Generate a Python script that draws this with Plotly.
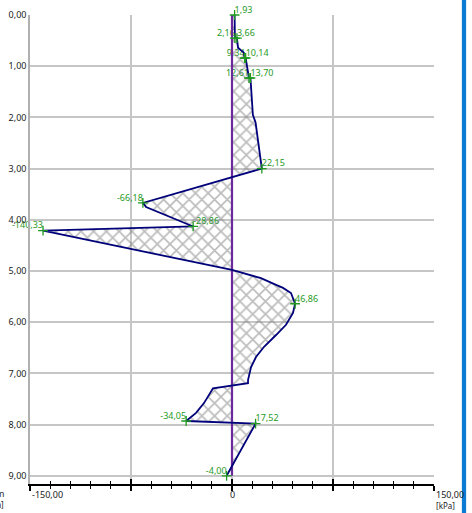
import plotly.graph_objects as go

# ---------------- data ----------------
depth = [0.00, 0.45, 0.45, 0.64, 0.74, 0.84, 0.84, 1.23, 1.23, 1.95, 2.10, 3.00,
         3.67, 3.75, 4.13, 4.21, 4.98, 5.14, 5.27, 5.33, 5.43, 5.64, 5.82, 6.05,
         6.25, 6.48, 6.68, 6.88, 7.13, 7.19, 7.29, 7.42, 7.58, 7.77, 7.93, 7.98, 9.00]
pressure = [1.93, 2.16, 3.66, 4.50, 8.90, 9.34, 10.14, 12.61, 13.70, 15.50, 17.50, 22.15,
            -66.18, -63.80, -28.86, -140.33, 0.00, 21.50, 32.70, 37.90, 43.80, 46.86, 45.30, 40.10,
            32.70, 23.80, 17.80, 14.10, 11.90, 11.90, -14.10, -17.10, -20.80, -26.70, -34.05, 17.52, -4.00]

label_values = [1.93, 2.16, 3.66, 9.34, 10.14, 12.61, 13.70, 22.15, -66.18, -28.86,
                -140.33, 46.86, -34.05, 17.52, -4.00]
label_depths = [0.00, 0.45, 0.45, 0.84, 0.84, 1.23, 1.23, 3.00, 3.67, 4.13,
                4.21, 5.64, 7.93, 7.98, 9.00]
label_sides = ["r", "l", "r", "l", "r", "l", "r", "r", "l", "r", "l", "r", "l", "r", "l"]

depth_ticks = [0, 1, 2, 3, 4, 5, 6, 7, 8, 9]
depth_tick_text = ["0,00", "1,00", "2,00", "3,00", "4,00", "5,00", "6,00", "7,00", "8,00", "9,00"]
x_labels = [(-150, "-150,00", "left"), (0, "0", "center"), (150, "150,00", "left")]

GREEN = "#1f9a1f"
NAVY = "#00007a"
PURPLE = "#6a2a9c"
FONT = "Noto Sans"

def fmt(v):
    return f"{v:.2f}".replace(".", ",")

fig = go.Figure()

# labels (below the fill, like the reference)
for side in ("l", "r"):
    xs = [v for v, s in zip(label_values, label_sides) if s == side]
    ys = [d for d, s in zip(label_depths, label_sides) if s == side]
    fig.add_trace(go.Scatter(
        x=xs, y=ys, mode="text", text=[fmt(v) for v in xs],
        textposition="top left" if side == "l" else "top right",
        textfont=dict(family=FONT, size=9, color=GREEN),
        hoverinfo="skip", showlegend=False, cliponaxis=False))

# hatched fill
fig.add_trace(go.Scatter(
    x=pressure, y=depth, mode="lines", line=dict(width=0, color=NAVY),
    fill="tozerox", fillcolor="rgba(0,0,0,0)",
    fillpattern=dict(shape="x", fgcolor="#7a7a7a", bgcolor="rgba(255,255,255,0)",
                     size=9, solidity=0.34),
    hoverinfo="skip", showlegend=False))

# zero line
fig.add_trace(go.Scatter(
    x=[0, 0], y=[depth[0], depth[-1]], mode="lines",
    line=dict(color=PURPLE, width=2.2), hoverinfo="skip", showlegend=False))

# profile line
fig.add_trace(go.Scatter(
    x=pressure, y=depth, mode="lines", line=dict(color=NAVY, width=1.8),
    showlegend=False))

# markers
fig.add_trace(go.Scatter(
    x=label_values, y=label_depths, mode="markers", cliponaxis=False,
    marker=dict(symbol="cross-thin", size=7, line=dict(color=GREEN, width=1.3)),
    showlegend=False))

# dummy trace for overlaying tick axis
fig.add_trace(go.Scatter(x=[None], y=[None], xaxis="x2", showlegend=False))

for xv, txt, anc in x_labels:
    fig.add_annotation(x=xv, xref="x", y=0, yref="paper", yanchor="top",
                       xanchor=anc, yshift=-2, text=txt, showarrow=False,
                       font=dict(family=FONT, size=9, color="#222"))
fig.add_annotation(x=150, xref="x", y=0, yref="paper", yanchor="top", xanchor="left",
                   yshift=-14, text="[kPa]", showarrow=False,
                   font=dict(family=FONT, size=8, color="#222"))
fig.add_annotation(x=-0.06, xref="paper", y=0, yref="paper", yanchor="top", xanchor="right",
                   yshift=-1, text="m", showarrow=False,
                   font=dict(family=FONT, size=9, color="#222"))
fig.add_annotation(x=-0.06, xref="paper", y=0, yref="paper", yanchor="top", xanchor="right",
                   yshift=-13, text="[m]", showarrow=False,
                   font=dict(family=FONT, size=8, color="#222"))

# blue bar on the right
fig.add_shape(type="rect", xref="paper", yref="paper",
              x0=1.069, x1=1.0795, y0=-0.07, y1=1.04,
              fillcolor="#0a7bd2", line=dict(width=0), layer="above")

fig.update_layout(
    width=472, height=513, autosize=False,
    margin=dict(l=30, r=38, t=15, b=29, autoexpand=False),
    paper_bgcolor="white", plot_bgcolor="white",
    font=dict(family=FONT, size=9, color="#222"),
    xaxis=dict(range=[-150, 150], tick0=-150, dtick=75, ticks="outside", ticklen=5,
               tickwidth=1.5, tickcolor="black", showticklabels=False, automargin=False,
               showgrid=True, gridcolor="#c6c6c6", gridwidth=1.5, zeroline=False,
               showline=True, linecolor="black", linewidth=1.5,
               minor=dict(tick0=-150, dtick=15, ticks="outside", ticklen=3,
                          tickwidth=1.2, tickcolor="black", showgrid=False)),
    xaxis2=dict(overlaying="x", matches="x", anchor="y", side="bottom",
                range=[-150, 150], tick0=-150, dtick=75, ticks="inside", ticklen=5,
                tickwidth=1.5, tickcolor="black", showticklabels=False, automargin=False,
                showgrid=False, zeroline=False, showline=False,
                minor=dict(tick0=-150, dtick=15, ticks="inside", ticklen=3,
                           tickwidth=1.2, tickcolor="black", showgrid=False)),
    yaxis=dict(range=[9.16, 0], tickvals=depth_ticks, ticktext=depth_tick_text,
               automargin=False,
               showgrid=True, gridcolor="#c6c6c6", gridwidth=1.5, zeroline=False,
               showline=True, linecolor="#b0b0b0", linewidth=1.5, ticks="",
               tickfont=dict(family=FONT, size=9, color="#222")),
)

fig.write_html(
    "out.html",
    config={"displayModeBar": False},
    post_script="document.body.style.margin='0';document.body.style.overflow='hidden';",
)
